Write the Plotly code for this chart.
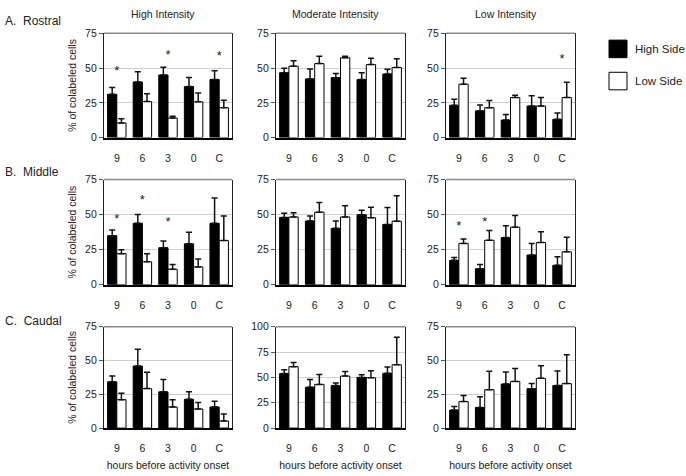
import plotly.graph_objects as go

W, H = 686, 476

categories = ["9", "6", "3", "0", "C"]
intensities = ["High Intensity", "Moderate Intensity", "Low Intensity"]
regions = ["A.\u00a0\u00a0Rostral", "B.\u00a0\u00a0Middle", "C.\u00a0\u00a0Caudal"]

# mean, sem (upper bar only) and asterisk heights per panel
rostral_high_hs = [31.1, 40.0, 45.0, 36.7, 41.8]
rostral_high_hs_sem = [4.9, 7.4, 5.5, 6.5, 6.3]
rostral_high_ls = [10.5, 25.9, 14.0, 25.7, 21.5]
rostral_high_ls_sem = [3.0, 5.6, 1.4, 6.3, 5.4]
rostral_high_star = [47, None, 58.5, None, 58]

rostral_mod_hs = [46.6, 42.2, 43.1, 41.7, 45.7]
rostral_mod_hs_sem = [3.3, 7.2, 3.0, 4.9, 3.5]
rostral_mod_ls = [51.3, 53.2, 57.4, 52.5, 50.4]
rostral_mod_ls_sem = [4.0, 5.3, 1.1, 4.6, 6.3]
rostral_mod_star = [None, None, None, None, None]

rostral_low_hs = [23.2, 19.2, 12.6, 22.7, 13.1]
rostral_low_hs_sem = [4.4, 4.2, 4.0, 7.3, 4.5]
rostral_low_ls = [38.4, 21.5, 28.8, 22.7, 28.8]
rostral_low_ls_sem = [4.2, 5.2, 1.6, 6.1, 11.0]
rostral_low_star = [None, None, None, None, 56]

middle_high_hs = [35.0, 43.8, 26.4, 29.2, 43.8]
middle_high_hs_sem = [4.0, 6.2, 4.8, 8.3, 18.0]
middle_high_ls = [22.2, 16.4, 11.1, 12.7, 31.5]
middle_high_ls_sem = [2.8, 5.8, 3.3, 5.6, 17.5]
middle_high_star = [46.5, 59.7, 44, None, None]

middle_mod_hs = [48.0, 45.5, 40.2, 49.9, 43.0]
middle_mod_hs_sem = [3.0, 3.5, 5.3, 3.2, 12.0]
middle_mod_ls = [48.3, 51.7, 48.3, 47.8, 45.3]
middle_mod_ls_sem = [3.0, 7.0, 8.0, 7.4, 18.2]
middle_mod_star = [None, None, None, None, None]

middle_low_hs = [17.4, 11.4, 33.6, 21.2, 13.9]
middle_low_hs_sem = [2.0, 3.0, 8.4, 8.3, 6.0]
middle_low_ls = [29.5, 31.7, 41.0, 30.1, 23.5]
middle_low_ls_sem = [3.1, 6.9, 8.3, 7.6, 10.3]
middle_low_star = [41.5, 44.5, None, None, None]

caudal_high_hs = [34.2, 45.9, 26.8, 21.3, 15.6]
caudal_high_hs_sem = [4.3, 12.5, 9.1, 5.5, 4.3]
caudal_high_ls = [21.0, 29.2, 15.6, 14.1, 5.3]
caudal_high_ls_sem = [4.8, 12.2, 5.4, 4.8, 5.2]
caudal_high_star = [None, None, None, None, None]

caudal_mod_hs = [53.8, 40.3, 41.9, 50.0, 54.0]
caudal_mod_hs_sem = [3.7, 7.7, 2.5, 2.5, 6.3]
caudal_mod_ls = [60.6, 43.1, 51.3, 49.7, 62.5]
caudal_mod_ls_sem = [4.1, 9.7, 4.6, 6.9, 27.2]
caudal_mod_star = [None, None, None, None, None]

caudal_low_hs = [13.3, 15.2, 32.6, 29.1, 31.5]
caudal_low_hs_sem = [2.7, 7.9, 8.9, 3.8, 10.7]
caudal_low_ls = [19.6, 28.4, 34.5, 36.8, 32.9]
caudal_low_ls_sem = [4.6, 13.6, 9.5, 9.4, 21.4]
caudal_low_star = [None, None, None, None, None]

y_max = [75, 75, 75, 75, 75, 75, 75, 100, 75]
y_ticks = {75: [0, 25, 50, 75], 100: [0, 25, 50, 75, 100]}

panels = [
    (rostral_high_hs, rostral_high_hs_sem, rostral_high_ls, rostral_high_ls_sem, rostral_high_star),
    (rostral_mod_hs, rostral_mod_hs_sem, rostral_mod_ls, rostral_mod_ls_sem, rostral_mod_star),
    (rostral_low_hs, rostral_low_hs_sem, rostral_low_ls, rostral_low_ls_sem, rostral_low_star),
    (middle_high_hs, middle_high_hs_sem, middle_high_ls, middle_high_ls_sem, middle_high_star),
    (middle_mod_hs, middle_mod_hs_sem, middle_mod_ls, middle_mod_ls_sem, middle_mod_star),
    (middle_low_hs, middle_low_hs_sem, middle_low_ls, middle_low_ls_sem, middle_low_star),
    (caudal_high_hs, caudal_high_hs_sem, caudal_high_ls, caudal_high_ls_sem, caudal_high_star),
    (caudal_mod_hs, caudal_mod_hs_sem, caudal_mod_ls, caudal_mod_ls_sem, caudal_mod_star),
    (caudal_low_hs, caudal_low_hs_sem, caudal_low_ls, caudal_low_ls_sem, caudal_low_star),
]

# plot area boxes in pixels (left, right) and (top, bottom)
col_px = [(104, 232), (276, 405), (446, 575)]
row_px = [(28, 135), (178, 286), (329, 433)]

FONT = "Arial, Liberation Sans, sans-serif"
TXT = "#222"

fig = go.Figure()
layout = {}
annotations = []
shapes = []

for i, (hs, hs_sem, ls, ls_sem, star) in enumerate(panels):
    r, c = divmod(i, 3)
    sfx = "" if i == 0 else str(i + 1)
    xa, ya = "x" + sfx, "y" + sfx

    fig.add_bar(x=categories, y=hs, xaxis=xa, yaxis=ya, name="High Side",
                marker=dict(color="black", line=dict(color="black", width=1)),
                error_y=dict(type="data", symmetric=False, array=hs_sem,
                             arrayminus=[0] * 5, color="#111", thickness=1.5, width=3),
                showlegend=False, offsetgroup="hs")
    fig.add_bar(x=categories, y=ls, xaxis=xa, yaxis=ya, name="Low Side",
                marker=dict(color="white", line=dict(color="black", width=1)),
                error_y=dict(type="data", symmetric=False, array=ls_sem,
                             arrayminus=[0] * 5, color="#111", thickness=1.5, width=3),
                showlegend=False, offsetgroup="ls")
    sx = [cat for cat, s in zip(categories, star) if s is not None]
    sy = [s for s in star if s is not None]
    if sx:
        fig.add_scatter(x=sx, y=sy, xaxis=xa, yaxis=ya, mode="text", text=["*"] * len(sx),
                        textfont=dict(family=FONT, size=13, color=TXT),
                        showlegend=False, hoverinfo="skip")

    x0, x1 = col_px[c]
    t, b = row_px[r]
    layout["xaxis" + sfx] = dict(
        domain=[x0 / W, x1 / W], anchor=ya, type="category",
        range=[-0.5, 4.5], showline=True, linecolor="black", linewidth=1.5,
        ticks="", ticklabelstandoff=10, showgrid=False, zeroline=False,
        tickfont=dict(family=FONT, size=10.5, color=TXT),
        title=dict(text="hours before activity onset" if r == 2 else "",
                   font=dict(family=FONT, size=10.5, color=TXT), standoff=8),
    )
    ym = y_max[i]
    layout["yaxis" + sfx] = dict(
        domain=[1 - b / H, 1 - t / H], anchor=xa, range=[0, ym],
        tickvals=y_ticks[ym], ticks="outside", ticklen=4, tickcolor="#555",
        showline=True, linecolor="#222", linewidth=1.2, mirror=True,
        showgrid=True, gridcolor="#d0d0d0", gridwidth=1, zeroline=False,
        tickfont=dict(family=FONT, size=10.5, color=TXT),
        title=dict(text="% of colabeled cells" if c == 0 else "",
                   font=dict(family=FONT, size=10.5, color=TXT), standoff=6),
    )
    # grey top border of each panel
    shapes.append(dict(type="line", xref=xa + " domain", yref=ya + " domain",
                       x0=0, x1=1, y0=1, y1=1, line=dict(color="#8a8a8a", width=1.5)))

# column titles
for c, name in enumerate(intensities):
    x0, x1 = col_px[c]
    annotations.append(dict(text=name, x=((x0 + x1) / 2 - 5) / W, y=1 - 8 / H,
                            xref="paper", yref="paper", xanchor="center", yanchor="middle",
                            showarrow=False, font=dict(family=FONT, size=10.5, color=TXT)))

# row labels
for r, name in enumerate(regions):
    ly = [15, 170, 323][r]
    annotations.append(dict(text=name, x=3 / W, y=1 - ly / H, xref="paper", yref="paper",
                            xanchor="left", yanchor="middle", showarrow=False,
                            font=dict(family=FONT, size=12, color=TXT)))

# legend drawn as boxes and labels
for k, (lab, col) in enumerate([("High Side", "black"), ("Low Side", "white")]):
    cy = [44, 77][k]
    shapes.append(dict(type="rect", xref="paper", yref="paper",
                       x0=609 / W, x1=627 / W, y0=1 - (cy + 9) / H, y1=1 - (cy - 9) / H,
                       fillcolor=col, line=dict(color="black", width=1)))
    annotations.append(dict(text=lab, x=633 / W, y=1 - cy / H, xref="paper", yref="paper",
                            xanchor="left", yanchor="middle", showarrow=False,
                            font=dict(family=FONT, size=11.5, color=TXT)))

fig.update_layout(
    width=W, height=H, margin=dict(l=0, r=0, t=0, b=0),
    paper_bgcolor="white", plot_bgcolor="white",
    barmode="group", bargap=0.28, bargroupgap=0,
    annotations=annotations, shapes=shapes, **layout,
)

fig.write_html("out.html", config={"displayModeBar": False},
               post_script="document.body.style.margin='0';document.body.style.overflow='hidden';")
